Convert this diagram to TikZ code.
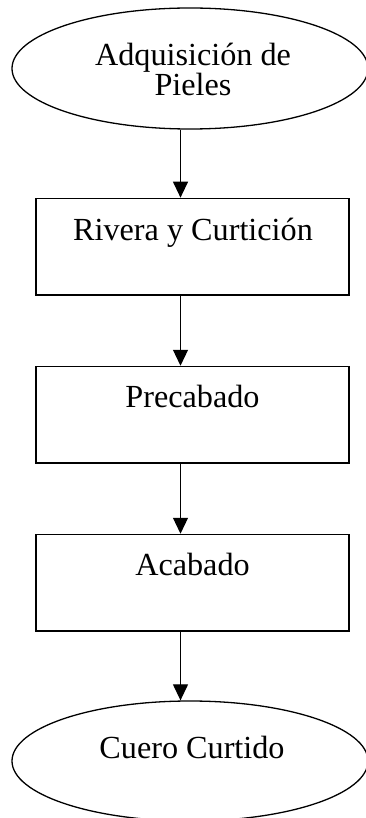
\documentclass[tikz,border=0pt]{standalone}
\usepackage{fontspec}
\setmainfont{Liberation Serif}
\usetikzlibrary{shapes.geometric,arrows.meta}
\begin{document}
\begin{tikzpicture}[x=1pt,y=-1pt,
  term/.style={draw=black,line width=1.3pt,ellipse,minimum width=356pt,minimum height=121pt,inner sep=0pt},
  stepbox/.style={draw=black,line width=1.6pt,rectangle,minimum width=313pt,minimum height=96.5pt,inner sep=0pt},
  lbl/.style={anchor=base,inner sep=0pt,font=\fontsize{32.2}{30}\selectfont},
  arr/.style={line width=1.2pt,-{Triangle[width=15pt,length=16pt]}}]
\clip (0,0) rectangle (366,818);
\fill[white] (0,0) rectangle (366,818);
\coordinate (ax) at (180.5,0);
\node[term] (e1) at (190,68.5) {};
\node[lbl] (t1a) at (193,65.7) {Adquisición de};
\node[lbl] (t1b) at (193,95.7) {Pieles};
\node[stepbox] (b1) at (192.5,246.7) {};
\node[lbl] (t2) at (193,240.7) {Rivera y Curtición};
\node[stepbox] (b2) at (192.5,414.8) {};
\node[lbl] (t3) at (192.5,407.3) {Precabado};
\node[stepbox] (b3) at (192.5,582.8) {};
\node[lbl] (t4) at (192.5,575) {Acabado};
\node[term,minimum height=120pt] (e2) at (190,761) {};
\node[lbl] (t5) at (192,758.3) {Cuero Curtido};
\draw[arr] (e1.south -| ax) -- (b1.north -| ax);
\draw[arr] (b1.south -| ax) -- (b2.north -| ax);
\draw[arr] (b2.south -| ax) -- (b3.north -| ax);
\draw[arr] (b3.south -| ax) -- (e2.north -| ax);
\end{tikzpicture}
\end{document}
